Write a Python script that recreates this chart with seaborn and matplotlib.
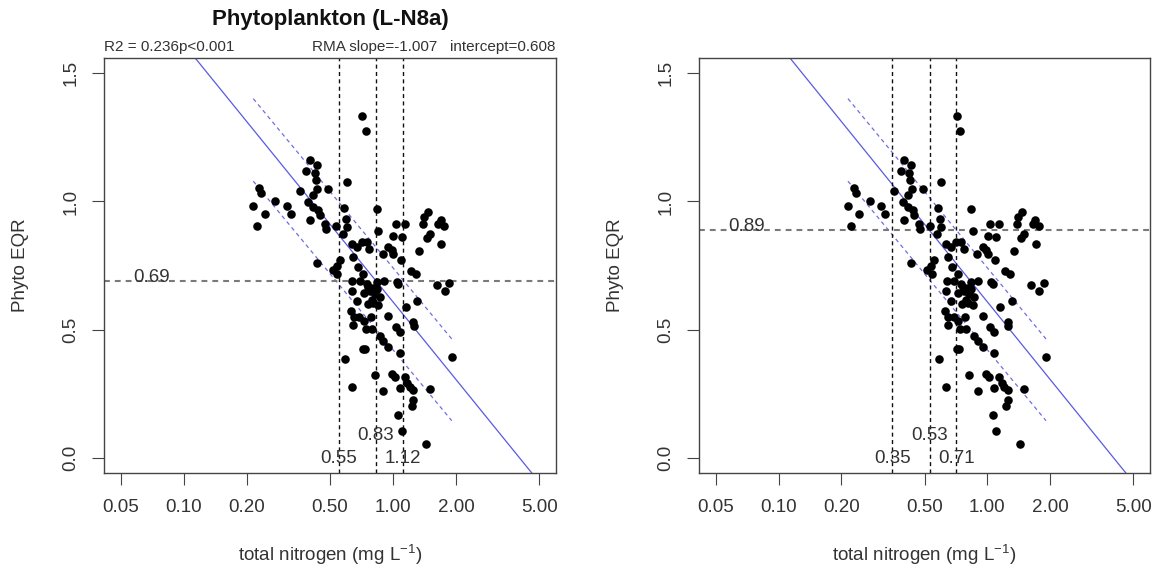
import numpy as np
import pandas as pd
import matplotlib
matplotlib.use("Agg")
import matplotlib.pyplot as plt
from matplotlib.ticker import NullLocator
import seaborn as sns

# total nitrogen (mg/L) and phytoplankton EQR
tn = [0.713, 0.743, 0.401, 0.431, 0.386, 0.423, 0.428, 0.600, 0.491, 0.359,
      0.435, 0.416, 0.229, 0.235, 0.273, 0.215, 0.244, 0.223, 0.310, 0.324,
      0.393, 0.416, 0.439, 0.401, 0.447, 0.473, 0.478, 0.534, 0.583, 0.596,
      0.600, 0.574, 0.835, 1.034, 1.141, 1.004, 1.100, 0.851, 1.470, 1.407,
      1.387, 1.503, 1.449, 1.691, 1.761, 1.648, 1.703, 0.634, 0.708, 0.748,
      0.670, 0.770, 0.950, 0.985, 0.892, 1.004, 1.088, 1.337, 0.646, 0.558,
      0.538, 0.431, 0.514, 0.542, 0.680, 0.721, 1.215, 1.289, 0.636, 0.695,
      0.748, 0.776, 0.805, 0.835, 0.906, 1.041, 1.061, 1.618, 1.773, 1.860,
      0.670, 0.727, 0.820, 0.805, 0.867, 0.835, 1.307, 1.154, 0.627, 0.651,
      0.690, 0.646, 0.727, 0.782, 0.743, 0.790, 0.950, 1.034, 1.080, 1.251,
      1.260, 0.867, 0.899, 0.950, 1.080, 0.716, 0.732, 0.589, 1.909, 0.820,
      0.985, 1.022, 1.141, 1.171, 1.206, 1.080, 1.251, 0.899, 0.634, 1.503,
      1.251, 1.228, 1.061, 1.100, 1.439, 0.762, 0.790, 0.851, 0.640, 0.760]
eqr = [1.333, 1.276, 1.161, 1.141, 1.119, 1.111, 1.083, 1.076, 1.050, 1.041,
       1.050, 1.024, 1.054, 1.033, 1.002, 0.981, 0.952, 0.903, 0.981, 0.952,
       0.998, 0.978, 0.965, 0.926, 0.946, 0.913, 0.893, 0.906, 0.976, 0.933,
       0.900, 0.874, 0.972, 0.913, 0.913, 0.867, 0.861, 0.884, 0.959, 0.939,
       0.913, 0.874, 0.858, 0.929, 0.906, 0.913, 0.835, 0.832, 0.841, 0.841,
       0.822, 0.815, 0.822, 0.809, 0.796, 0.793, 0.772, 0.806, 0.785, 0.772,
       0.750, 0.759, 0.733, 0.717, 0.743, 0.717, 0.728, 0.715, 0.652, 0.691,
       0.678, 0.652, 0.663, 0.685, 0.691, 0.685, 0.676, 0.672, 0.652, 0.681,
       0.613, 0.642, 0.639, 0.603, 0.626, 0.659, 0.613, 0.587, 0.571, 0.550,
       0.548, 0.519, 0.535, 0.548, 0.501, 0.502, 0.554, 0.509, 0.489, 0.528,
       0.515, 0.476, 0.457, 0.430, 0.410, 0.424, 0.424, 0.385, 0.394, 0.324,
       0.326, 0.313, 0.313, 0.290, 0.274, 0.271, 0.264, 0.261, 0.277, 0.266,
       0.224, 0.202, 0.167, 0.104, 0.055, 0.665, 0.616, 0.597, 0.690, 0.600]

# RMA fit and the dashed band lines (intercept, slope on log10 x)
rma_int, rma_slope = 0.608, -1.007
band_hi = (0.741, -0.989)
band_lo = (0.421, -0.986)

# boundary values per panel: horizontal EQR line, three nitrogen values
panel_h = [0.69, 0.89]
panel_v = [[0.55, 0.83, 1.12], [0.35, 0.53, 0.71]]

x_ticks = [0.05, 0.1, 0.2, 0.5, 1, 2, 5]
x_tick_labels = ["0.05", "0.10", "0.20", "0.50", "1.00", "2.00", "5.00"]
y_ticks = [0.0, 0.5, 1.0, 1.5]
y_tick_labels = ["0.0", "0.5", "1.0", "1.5"]

title = "Phytoplankton (L-N8a)"
stat_left = "R2 = 0.236p<0.001"
stat_right = "RMA slope=-1.007   intercept=0.608"

sns.set_theme(style="ticks")
plt.rcParams["font.family"] = ["Liberation Sans", "DejaVu Sans"]
plt.rcParams["mathtext.fontset"] = "custom"
plt.rcParams["mathtext.rm"] = "Liberation Sans"
plt.rcParams["mathtext.it"] = "Liberation Sans"

df = pd.DataFrame({"tn": tn, "eqr": eqr})

# R style axis limits: 4% extension (log for x)
lx = np.log10([0.05, 5])
pad = 0.04 * (lx[1] - lx[0])
xlim = (10 ** (lx[0] - pad), 10 ** (lx[1] + pad))
ylim = (0 - 0.04 * 1.5, 1.5 + 0.04 * 1.5)

fig = plt.figure(figsize=(11.59, 5.70), dpi=100)
W, H = 1159, 570
boxes = [(104, 97, 452, 415), (699, 97, 451, 415)]
txt_col = "#333333"

for i, (bx, by, bw, bh) in enumerate(boxes):
    ax = fig.add_axes([bx / W, by / H, bw / W, bh / H])
    ax.set_xscale("log")
    ax.set_xlim(xlim)
    ax.set_ylim(ylim)

    # RMA line across the panel
    xs = np.logspace(np.log10(xlim[0]), np.log10(xlim[1]), 200)
    ax.plot(xs, rma_int + rma_slope * np.log10(xs), color="#5a5ae2", lw=0.9)
    # band lines over the data range
    xr = np.logspace(np.log10(df.tn.min()), np.log10(df.tn.max()), 50)
    for a, b in (band_hi, band_lo):
        ax.plot(xr, a + b * np.log10(xr), color="#6e6ee6", lw=0.9,
                linestyle=(0, (3.2, 2.8)))

    # boundaries
    h = panel_h[i]
    ax.axhline(h, color="#7a7a7a", lw=1.5, linestyle=(0, (2.8, 2.4)))
    ax.text(0.0703, h + 0.014, f"{h:.2f}", ha="center", va="center",
            fontsize=13.5, color=txt_col)
    for j, v in enumerate(panel_v[i]):
        ax.axvline(v, color="#111111", lw=1.0, linestyle=(0, (2.9, 2.4)))
        ty = 0.085 if j == 1 else -0.005
        ax.text(v, ty, f"{v:.2f}", ha="center", va="center",
                fontsize=13.5, color=txt_col)

    sns.scatterplot(data=df, x="tn", y="eqr", ax=ax, color="black", s=38,
                    linewidth=0, zorder=5)

    ax.set_xticks(x_ticks)
    ax.set_xticklabels(x_tick_labels)
    ax.xaxis.set_minor_locator(NullLocator())
    ax.set_yticks(y_ticks)
    ax.set_yticklabels(y_tick_labels, rotation=90, va="center")
    ax.tick_params(axis="both", length=8.5, width=0.8, color="#444444",
                   labelsize=13.5, labelcolor=txt_col)
    ax.tick_params(axis="x", pad=10)
    ax.tick_params(axis="y", pad=9)
    for s in ax.spines.values():
        s.set_color("#444444")
        s.set_linewidth(1.0)

    ax.set_xlabel("total nitrogen (mg L$^{-1}$)", fontsize=13.5,
                  color=txt_col, va="center")
    ax.xaxis.set_label_coords(0.5, -82 / bh)
    ax.set_ylabel("Phyto EQR", fontsize=13.5, color=txt_col, va="center")
    ax.yaxis.set_label_coords(-83 / bw, 0.5)

    if i == 0:
        ax.set_title(title, fontsize=16, fontweight="bold", color="#111111",
                     pad=24)
        ax.annotate(stat_left, (0, 1), xycoords="axes fraction",
                    xytext=(0, 3), textcoords="offset points",
                    ha="left", va="bottom", fontsize=11, color=txt_col)
        ax.annotate(stat_right, (1, 1), xycoords="axes fraction",
                    xytext=(0, 3), textcoords="offset points",
                    ha="right", va="bottom", fontsize=11, color=txt_col)

fig.savefig("out.png", dpi=100, facecolor="white")
